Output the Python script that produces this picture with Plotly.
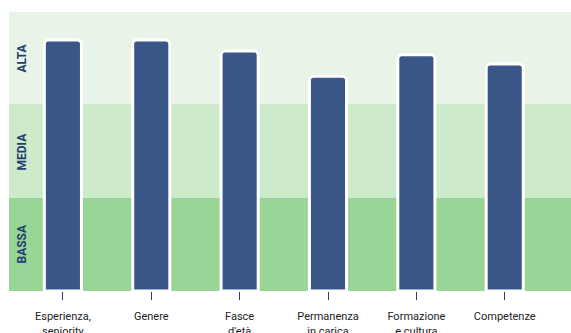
import plotly.graph_objects as go

categories = ["Esperienza,<br>seniority", "Genere", "Fasce<br>d'età", "Permanenza<br>in carica", "Formazione<br>e cultura", "Competenze"]
values = [2.70, 2.70, 2.58, 2.31, 2.54, 2.44]
bands = ["BASSA", "MEDIA", "ALTA"]
band_colors = ["#98d596", "#cdeacb", "#e8f4e8"]

x = list(range(len(categories)))
fig = go.Figure()
fig.add_trace(go.Bar(
    x=x, y=values, width=0.42,
    marker=dict(color="#3a5788", line=dict(color="white", width=3)),
    hoverinfo="skip",
))

for i, (b, c) in enumerate(zip(bands, band_colors)):
    fig.add_shape(type="rect", xref="paper", yref="y", x0=0, x1=1, y0=i, y1=i + 1,
                  fillcolor=c, line=dict(width=0), layer="below")
    fig.add_annotation(xref="paper", yref="y", x=0, xshift=12, xanchor="center", yanchor="middle",
                       y=i + 0.5, text="<b>" + b + "</b>",
                       textangle=-90, showarrow=False,
                       font=dict(family="Roboto, sans-serif", size=12, color="#1f3f73"))
fig.add_shape(type="line", xref="paper", yref="y", x0=0, x1=1, y0=2, y1=2,
              line=dict(color="#c2e2c0", width=1), layer="below")

fig.update_layout(
    width=571, height=333,
    margin=dict(l=9, r=0, t=12, b=42),
    paper_bgcolor="white", plot_bgcolor="white",
    showlegend=False,
    barcornerradius=4,
    xaxis=dict(range=[-0.61, 5.75], tickmode="array", tickvals=x, ticktext=categories,
               ticks="outside", ticklen=8, tickwidth=1, tickcolor="#1f3f73",
               ticklabelstandoff=7, automargin=False,
               showgrid=False, zeroline=False, showline=False,
               tickfont=dict(family="Roboto, sans-serif", size=11, color="#222")),
    yaxis=dict(range=[0, 3], showticklabels=False, showgrid=False, zeroline=False, ticks="",
               automargin=False),
)
fig.write_html("out.html")
